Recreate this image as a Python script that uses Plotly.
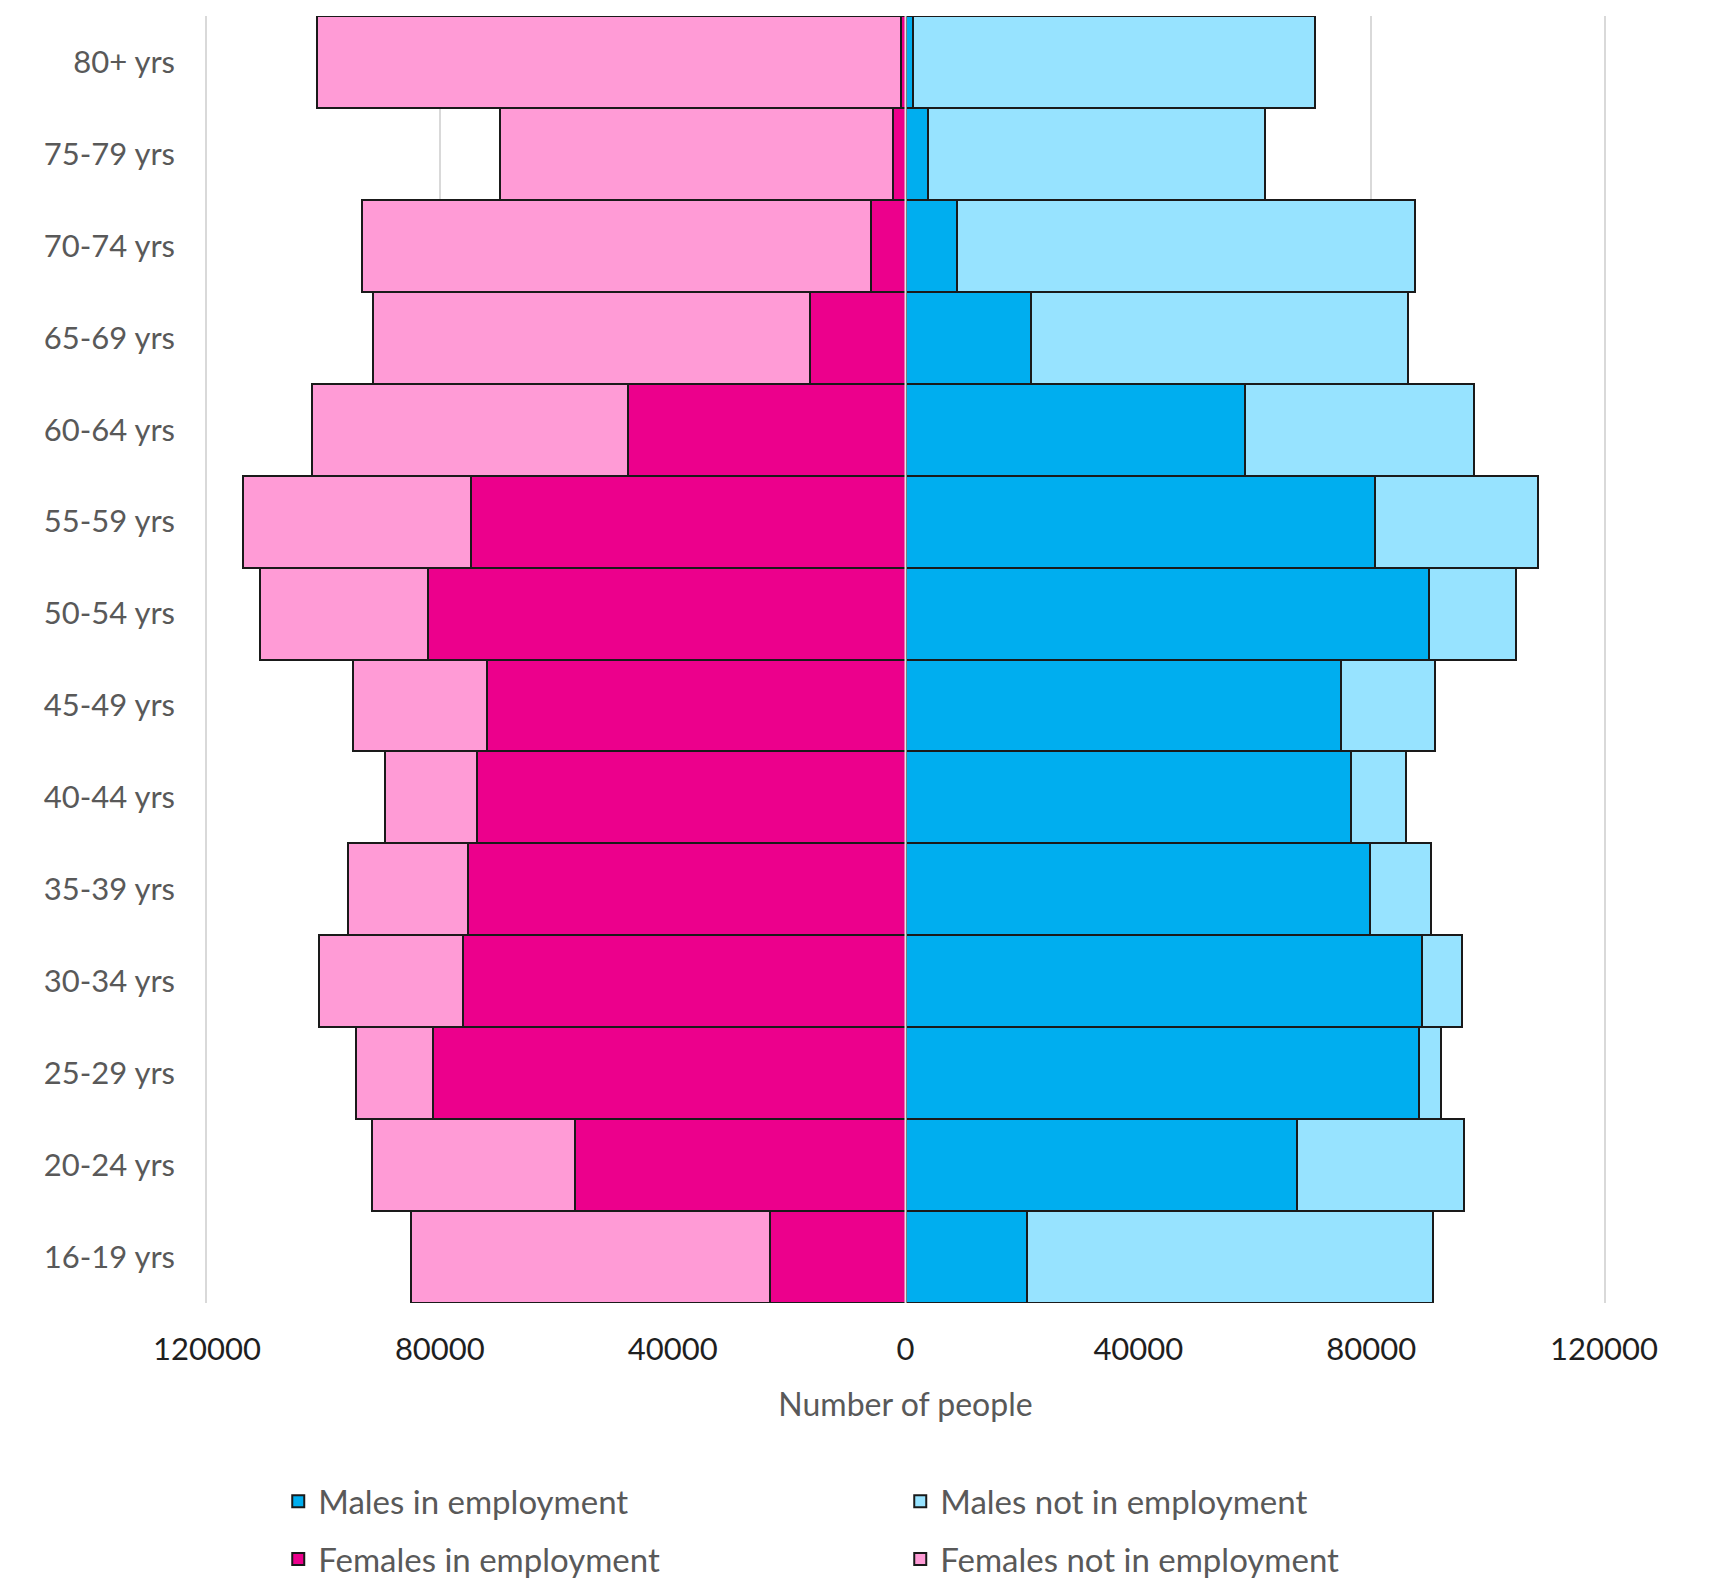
import plotly.graph_objects as go

# Age bands, youngest at the bottom of the pyramid
age_groups = ["16-19 yrs", "20-24 yrs", "25-29 yrs", "30-34 yrs", "35-39 yrs",
              "40-44 yrs", "45-49 yrs", "50-54 yrs", "55-59 yrs", "60-64 yrs",
              "65-69 yrs", "70-74 yrs", "75-79 yrs", "80+ yrs"]

males_employed = [20900, 67300, 88300, 88800, 79800, 76600, 74800, 89900,
                  80600, 58300, 21500, 8900, 3900, 1300]
males_not_employed = [69800, 28600, 3700, 6800, 10500, 9400, 16100, 14900,
                      28100, 39300, 64900, 78700, 57900, 69100]
females_employed = [23300, 56700, 81200, 76000, 75100, 73600, 71900, 82000,
                    74700, 47700, 16400, 6000, 2100, 700]
females_not_employed = [61700, 34900, 13200, 24700, 20600, 15900, 23000, 28900,
                        39200, 54200, 75000, 87400, 67500, 100400]

tick_values = [-120000, -80000, -40000, 0, 40000, 80000, 120000]
tick_labels = ["120000", "80000", "40000", "0", "40000", "80000", "120000"]

C_MALE_EMP = "#00AEEF"
C_MALE_NOT = "#97E3FF"
C_FEM_EMP = "#EC008C"
C_FEM_NOT = "#FF9BD6"
TEXT = "#595959"
GRID = "#d9d9d9"
FONT = "Lato, 'Open Sans', sans-serif"
outline = dict(color="#1a1a1a", width=2)

fig = go.Figure()
fig.add_trace(go.Bar(y=age_groups, x=males_employed, orientation="h",
                     name="Males in employment", marker=dict(color=C_MALE_EMP, line=outline),
                     legend="legend"))
fig.add_trace(go.Bar(y=age_groups, x=males_not_employed, orientation="h",
                     name="Males not in employment", marker=dict(color=C_MALE_NOT, line=outline),
                     legend="legend"))
fig.add_trace(go.Bar(y=age_groups, x=[-v for v in females_employed], orientation="h",
                     name="Females in employment", marker=dict(color=C_FEM_EMP, line=outline),
                     legend="legend2"))
fig.add_trace(go.Bar(y=age_groups, x=[-v for v in females_not_employed], orientation="h",
                     name="Females not in employment", marker=dict(color=C_FEM_NOT, line=outline),
                     legend="legend2"))

# light axis line through zero, drawn over the bars
fig.add_shape(type="line", xref="x", yref="paper", x0=0, x1=0, y0=0, y1=1,
              line=dict(color="#e4e4e4", width=2), layer="above")

legend_common = dict(orientation="h", xanchor="left", yanchor="middle",
                     entrywidth=577, font=dict(family=FONT, size=33, color=TEXT),
                     bgcolor="rgba(0,0,0,0)", traceorder="normal")

fig.update_layout(
    width=1711, height=1585,
    margin=dict(l=207, r=107, t=16, b=282, autoexpand=False),
    barmode="relative", bargap=0,
    plot_bgcolor="white", paper_bgcolor="white",
    font=dict(family=FONT, size=31, color=TEXT),
    legend=dict(x=0.051, y=-0.154, **legend_common),
    legend2=dict(x=0.051, y=-0.199, **legend_common),
    xaxis=dict(range=[-120000, 120000], tickvals=tick_values, ticktext=tick_labels,
               showgrid=True, gridcolor=GRID, gridwidth=1.5, zeroline=False,
               showline=False, ticks="", ticklabelstandoff=25,
               tickfont=dict(family=FONT, size=31, color="#1f1f1f"),
               title=dict(text="Number of people", standoff=27,
                          font=dict(family=FONT, size=32, color=TEXT))),
    yaxis=dict(showgrid=False, zeroline=False, showline=True, mirror=True,
               linecolor=GRID, linewidth=1.5, ticks="",
               ticklabelstandoff=24, categoryorder="array", categoryarray=age_groups,
               tickfont=dict(family=FONT, size=31, color=TEXT)),
)

fig.write_html("out.html")
